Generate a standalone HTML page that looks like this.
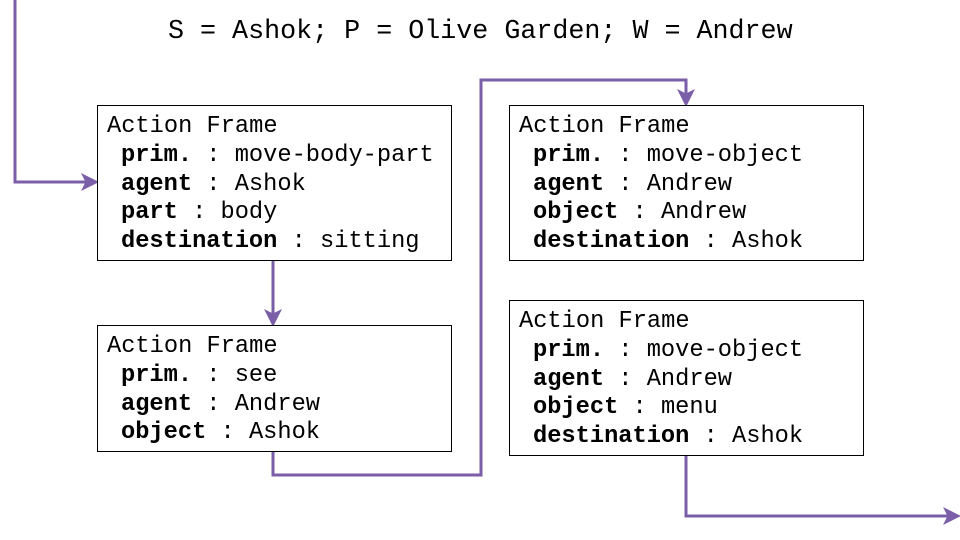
<!DOCTYPE html>
<html><head><meta charset="utf-8"><style>
html,body{margin:0;padding:0;background:#fff;width:960px;height:540px;overflow:hidden}
text{font-family:"Liberation Mono",monospace;font-size:23.7px;fill:#000}
.b{font-weight:bold}
</style></head><body>
<svg width="960" height="540" viewBox="0 0 960 540" xmlns="http://www.w3.org/2000/svg">
<defs>
<marker id="a" markerWidth="6" markerHeight="6" refX="5" refY="3" orient="auto" markerUnits="strokeWidth">
<path d="M0,0 L6,3 L0,6 L1.5,3 Z" fill="#7B5EA8"/>
</marker>
</defs>
<g fill="none" stroke="#7B5EA8" stroke-width="3">
<path d="M15,0 V182 H96" marker-end="url(#a)"/>
<path d="M273,260 V324" marker-end="url(#a)"/>
<path d="M273,451 V475 H481 V80 H686 V104" marker-end="url(#a)"/>
<path d="M686,455 V516 H958" marker-end="url(#a)"/>
</g>
<text x="168" y="38" style="font-size:26.7px">S = Ashok; P = Olive Garden; W = Andrew</text>
<g fill="#fff" stroke="#000" stroke-width="1">
<rect x="97.5" y="105.5" width="354" height="155"/>
<rect x="97.5" y="325.5" width="354" height="126"/>
<rect x="509.5" y="105.5" width="354" height="155"/>
<rect x="509.5" y="300.5" width="354" height="155"/>
</g>
<text x="107" y="132">Action Frame</text>
<text x="121" y="161"><tspan class="b">prim.</tspan> : move-body-part</text>
<text x="121" y="190"><tspan class="b">agent</tspan> : Ashok</text>
<text x="121" y="218"><tspan class="b">part</tspan> : body</text>
<text x="121" y="247"><tspan class="b">destination</tspan> : sitting</text>

<text x="107" y="352">Action Frame</text>
<text x="121" y="381"><tspan class="b">prim.</tspan> : see</text>
<text x="121" y="410"><tspan class="b">agent</tspan> : Andrew</text>
<text x="121" y="438"><tspan class="b">object</tspan> : Ashok</text>

<text x="519" y="132">Action Frame</text>
<text x="533" y="161"><tspan class="b">prim.</tspan> : move-object</text>
<text x="533" y="190"><tspan class="b">agent</tspan> : Andrew</text>
<text x="533" y="218"><tspan class="b">object</tspan> : Andrew</text>
<text x="533" y="247"><tspan class="b">destination</tspan> : Ashok</text>

<text x="519" y="327">Action Frame</text>
<text x="533" y="356"><tspan class="b">prim.</tspan> : move-object</text>
<text x="533" y="385"><tspan class="b">agent</tspan> : Andrew</text>
<text x="533" y="413"><tspan class="b">object</tspan> : menu</text>
<text x="533" y="442"><tspan class="b">destination</tspan> : Ashok</text>
</svg>
</body></html>
